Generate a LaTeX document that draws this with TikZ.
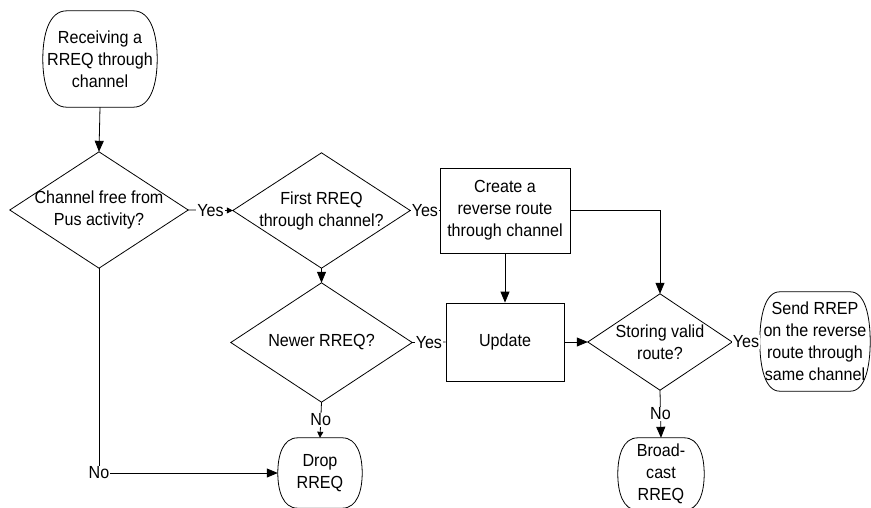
\documentclass[tikz,border=0pt]{standalone}
\usepackage{fontspec}
\setmainfont{Liberation Sans}[FakeStretch=0.92]
\usetikzlibrary{arrows.meta,calc}
\newcommand\termoutline[2]{%
  \draw[line] ([xshift=#2]#1.north west) -- ([xshift=-#2]#1.north east)
    .. controls ([xshift=-0.25*#2]#1.north east) and ($(#1.north east)!0.5!(#1.east)$) .. (#1.east)
    .. controls ($(#1.south east)!0.5!(#1.east)$) and ([xshift=-0.25*#2]#1.south east) .. ([xshift=-#2]#1.south east)
    -- ([xshift=#2]#1.south west)
    .. controls ([xshift=0.25*#2]#1.south west) and ($(#1.south west)!0.5!(#1.west)$) .. (#1.west)
    .. controls ($(#1.north west)!0.5!(#1.west)$) and ([xshift=0.25*#2]#1.north west) .. cycle;}
\newcommand\diaoutline[1]{%
  \draw[line] (#1.north) -- (#1.east) -- (#1.south) -- (#1.west) -- cycle;}
\tikzset{
  line/.style={line width=0.8pt, black},
  base/.style={font=\fontsize{17.5}{22}\selectfont, align=center, inner sep=0pt, rectangle},
  term/.style={base},
  dia/.style={base},
  proc/.style={base, draw, line width=0.8pt},
  lab/.style={font=\fontsize{17.5}{22}\selectfont, fill=white, inner sep=1pt},
  arr/.style={line, -{Triangle[length=11pt,width=9pt]}},
  sarr/.style={line, -{Triangle[length=6pt,width=6pt]}},
}
\begin{document}
\begin{tikzpicture}[x=1pt,y=-1pt]
\useasboundingbox (0,0) rectangle (871,507);
% nodes
\node[term, minimum width=114, minimum height=96] (start) at (100,59) {Receiving a\\RREQ through\\channel};
\node[dia, minimum width=178, minimum height=116] (d1) at (99,210) {Channel free from\\Pus activity?};
\node[dia, minimum width=177, minimum height=115] (d2) at (321.5,210.5) {First RREQ\\through channel?};
\node[proc, minimum width=130, minimum height=85] (create) at (505,210.5) {Create a\\reverse route\\through channel};
\node[dia, minimum width=181, minimum height=119] (d3) at (321.5,342.5) {Newer RREQ?};
\node[proc, minimum width=118, minimum height=78] (update) at (505,342) {Update};
\node[dia, minimum width=144, minimum height=96] (d4) at (660,342) {Storing valid\\route?};
\node[term, minimum width=110, minimum height=99] (send) at (815,341.5) {Send RREP\\on the reverse\\route through\\same channel};
\node[term, minimum width=86, minimum height=72] (bcast) at (661,474) {Broad-\\cast\\RREQ};
\node[term, minimum width=84, minimum height=70] (drop) at (320,473) {Drop\\RREQ};
% outlines
\termoutline{start}{24pt}
\termoutline{send}{20pt}
\termoutline{bcast}{20pt}
\termoutline{drop}{20pt}
\diaoutline{d1}
\diaoutline{d2}
\diaoutline{d3}
\diaoutline{d4}
% connectors
\draw[arr] (start.south) -- (d1.north);
\draw[sarr] (d1.east) -- node[lab] {Yes} (d2.west);
\draw[line] (d2.east) -- node[lab] {Yes} (create.west);
\draw[arr] (d2.south) -- (d3.north);
\draw[arr] (create.south) -- (update.north);
\draw[arr] (create.east) -| (d4.north);
\draw[line] (d3.east) -- node[lab] {Yes} (update.west);
\draw[arr] (update.east) -- (d4.west);
\draw[line] (d4.east) -- node[lab] {Yes} (send.west);
\draw[arr] (d4.south) -- node[lab] {No} (bcast.north);
\draw[sarr] (d3.south) -- node[lab] {No} (drop.north);
\draw[arr] (d1.south) |- node[lab, pos=0.5] {No} (drop.west);
\end{tikzpicture}
\end{document}
